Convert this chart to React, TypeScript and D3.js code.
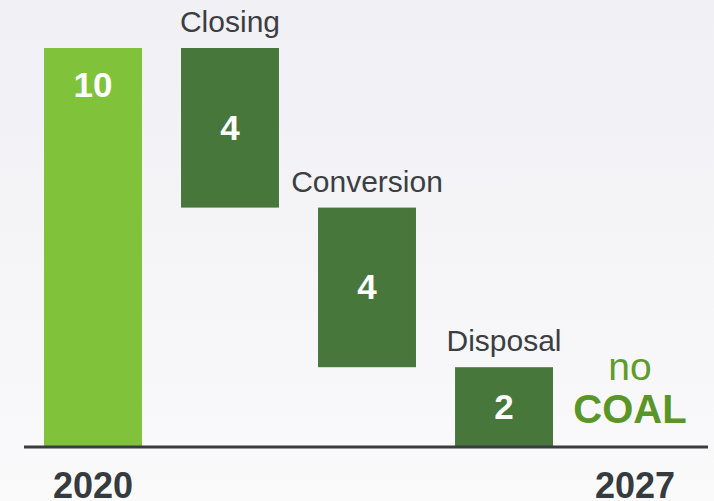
import { useEffect, useRef } from "react";
import * as d3 from "d3";

const steps = ["2020", "Closing", "Conversion", "Disposal"];
const values = [10, -4, -4, -2];
const startLabel = "2020";
const endLabel = "2027";

const App = () => {
  const svgRef = useRef<SVGSVGElement | null>(null);

  useEffect(() => {
    const width = 714;
    const height = 501;
    const svg = d3.select(svgRef.current);
    svg.selectAll("*").remove();
    svg.attr("width", width).attr("height", height);

    const defs = svg.append("defs");
    const grad = defs
      .append("linearGradient")
      .attr("id", "bg")
      .attr("x1", 0).attr("y1", 0).attr("x2", 0).attr("y2", 1);
    grad.append("stop").attr("offset", "0%").attr("stop-color", "#f0f0f5");
    grad.append("stop").attr("offset", "100%").attr("stop-color", "#fafafb");
    svg.append("rect").attr("width", width).attr("height", height).attr("fill", "url(#bg)");

    const baseY = 447;
    const y = d3.scaleLinear().domain([0, 10]).range([baseY, 48]);
    const x = d3.scaleBand<string>().domain(steps).range([44, 553]).paddingInner(0.285).paddingOuter(0);

    // running totals for waterfall
    let run = 0;
    const bars = steps.map((s, i) => {
      const v = values[i];
      const start = run;
      run += v;
      return { name: s, value: v, lo: Math.min(start, run), hi: Math.max(start, run), first: i === 0 };
    });

    const font = "'Liberation Sans', Arial, sans-serif";

    bars.forEach((b) => {
      const x0 = x(b.name)!;
      const bw = x.bandwidth();
      svg.append("rect")
        .attr("x", x0)
        .attr("y", y(b.hi))
        .attr("width", bw)
        .attr("height", y(b.lo) - y(b.hi))
        .attr("fill", b.first ? "#80c23a" : "#48773c");

      const ly = b.first ? y(b.hi) + 49 : (y(b.hi) + y(b.lo)) / 2 + 12;
      svg.append("text")
        .attr("x", x0 + bw / 2)
        .attr("y", ly)
        .attr("text-anchor", "middle")
        .style("font-family", font)
        .style("font-weight", "bold")
        .style("font-size", "35px")
        .attr("fill", "#ffffff")
        .text(Math.abs(b.value));

      if (!b.first) {
        svg.append("text")
          .attr("x", x0 + bw / 2)
          .attr("y", y(b.hi) - 16)
          .attr("text-anchor", "middle")
          .style("font-family", font)
          .style("font-size", "30px")
          .attr("fill", "#3b3e42")
          .text(b.name);
      }
    });

    svg.append("line")
      .attr("x1", 24).attr("x2", 708)
      .attr("y1", baseY).attr("y2", baseY)
      .attr("stroke", "#383d40")
      .attr("stroke-width", 3);

    svg.append("text")
      .attr("x", x(steps[0])! + x.bandwidth() / 2)
      .attr("y", 498)
      .attr("text-anchor", "middle")
      .style("font-family", font)
      .style("font-weight", "bold")
      .style("font-size", "36px")
      .attr("fill", "#363b3f")
      .text(startLabel);

    svg.append("text")
      .attr("x", 635)
      .attr("y", 498)
      .attr("text-anchor", "middle")
      .style("font-family", font)
      .style("font-weight", "bold")
      .style("font-size", "36px")
      .attr("fill", "#363b3f")
      .text(endLabel);

    svg.append("text")
      .attr("x", 630)
      .attr("y", 380)
      .attr("text-anchor", "middle")
      .style("font-family", font)
      .style("font-size", "39px")
      .attr("fill", "#5f9c2b")
      .text("no");

    svg.append("text")
      .attr("x", 630)
      .attr("y", 423)
      .attr("text-anchor", "middle")
      .style("font-family", font)
      .style("font-weight", "bold")
      .style("font-size", "40px")
      .attr("fill", "#5a9627")
      .text("COAL");
  }, []);

  return <svg ref={svgRef} style={{ position: "fixed", top: 0, left: 0 }} />;
};

export default App;
